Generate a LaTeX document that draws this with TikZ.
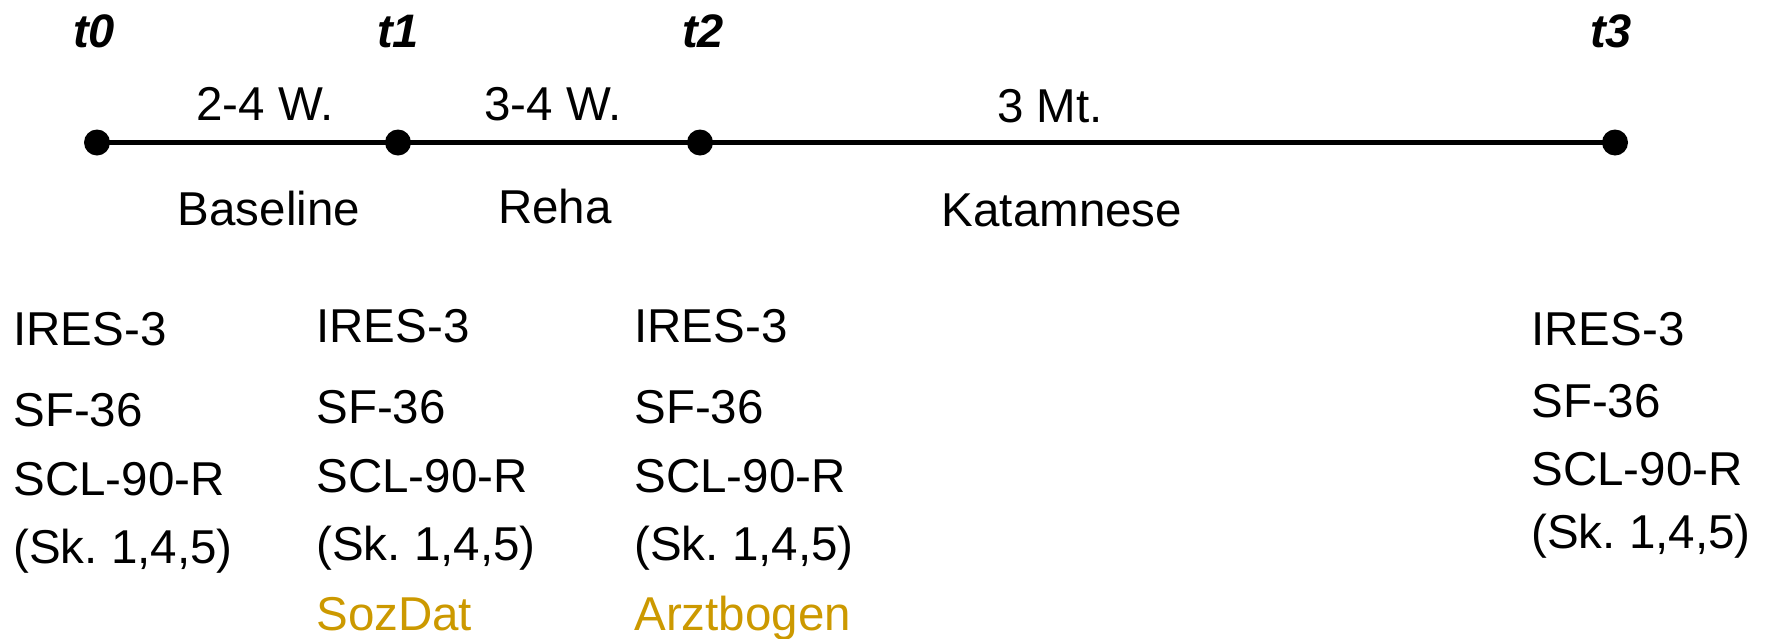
\documentclass[tikz,border=0pt]{standalone}
\usepackage{fontspec}
\setmainfont{Liberation Sans}
\definecolor{gold}{RGB}{204,153,0}
\frenchspacing
\begin{document}
\begin{tikzpicture}[x=0.5pt,y=-0.5pt,
  txt/.style={inner sep=0pt,font=\fontsize{23.75pt}{28pt}\selectfont},
  lbl/.style={txt,anchor=base},
  col/.style={txt,anchor=base west},
  tlab/.style={inner sep=0pt,anchor=base,font=\fontsize{23.5pt}{28pt}\selectfont\bfseries\itshape},
  dot/.style={circle,fill=black,inner sep=0pt,minimum size=13pt},
  tline/.style={line width=2.2pt}]
\useasboundingbox (0,0) rectangle (1767,638);
% time labels
\node[tlab] (t0) at (94,47) {t0};
\node[tlab] (t1) at (398,47) {t1};
\node[tlab] (t2) at (703,47) {t2};
\node[tlab] (t3) at (1611,47) {t3};
% dots
\node[dot] (d0) at (97,142.5) {};
\node[dot] (d1) at (398,142.5) {};
\node[dot] (d2) at (700,142.5) {};
\node[dot] (d3) at (1615,142.5) {};
\draw[tline] (d0.center) -- (d1.center) -- (d2.center) -- (d3.center);
% durations
\node[lbl] (w1) at (265,120) {2-4 W.};
\node[lbl] (w2) at (553,120) {3-4 W.};
\node[lbl] (w3) at (1050,122) {3 Mt.};
% phases
\node[lbl] (p1) at (269,225) {Baseline};
\node[lbl] (p2) at (555,223) {Reha};
\node[lbl] (p3) at (1062,226) {Katamnese};
% column 1
\node[col] (a1) at (13,345) {IRES-3};
\node[col] (a2) at (13,426) {SF-36};
\node[col] (a3) at (13,495) {SCL-90-R};
\node[col] (a4) at (13,563) {(Sk. 1,4,5)};
% column 2
\node[col] (b1) at (316,342) {IRES-3};
\node[col] (b2) at (316,423) {SF-36};
\node[col] (b3) at (316,492) {SCL-90-R};
\node[col] (b4) at (316,560) {(Sk. 1,4,5)};
\node[col,text=gold] (b5) at (316,630) {SozDat};
% column 3
\node[col] (c1) at (634,342) {IRES-3};
\node[col] (c2) at (634,423) {SF-36};
\node[col] (c3) at (634,492) {SCL-90-R};
\node[col] (c4) at (634,560) {(Sk. 1,4,5)};
\node[col,text=gold] (c5) at (634,630) {Arztbogen};
% column 4
\node[col] (e1) at (1531,345) {IRES-3};
\node[col] (e2) at (1531,417) {SF-36};
\node[col] (e3) at (1531,485) {SCL-90-R};
\node[col] (e4) at (1531,548) {(Sk. 1,4,5)};
\end{tikzpicture}
\end{document}
